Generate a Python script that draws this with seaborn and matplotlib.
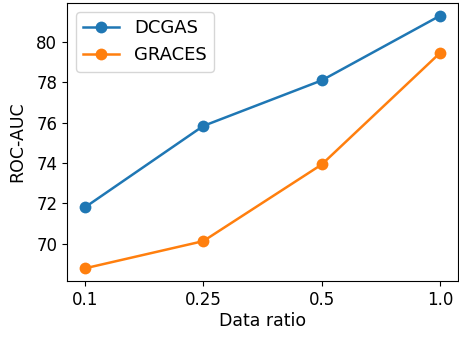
import pandas as pd
import matplotlib.pyplot as plt
import seaborn as sns

# values
ratios = ['0.1', '0.25', '0.5', '1.0']
dcgas = [71.8, 75.84, 78.1, 81.31]
graces = [68.78, 70.13, 73.93, 79.47]

df = pd.DataFrame({
    'ratio': ratios * 2,
    'auc': dcgas + graces,
    'method': ['DCGAS'] * 4 + ['GRACES'] * 4,
})

plt.rcParams['font.size'] = 12
fig, ax = plt.subplots(figsize=(4.59, 3.38), dpi=100)
fig.subplots_adjust(left=67/459, right=458/459, bottom=1-281/338, top=1-3/338)

sns.lineplot(data=df, x='ratio', y='auc', hue='method', marker='o',
             markersize=8.5, markeredgewidth=0, linewidth=1.8,
             palette=['#1f77b4', '#ff7f0e'], ax=ax)

ax.set_xlabel('Data ratio', fontsize=12.5, labelpad=2)
ax.set_ylabel('ROC-AUC', fontsize=12.5, labelpad=7)
ax.legend(loc='upper left', title=None, fontsize=13)

fig.savefig('out.png', dpi=100)
